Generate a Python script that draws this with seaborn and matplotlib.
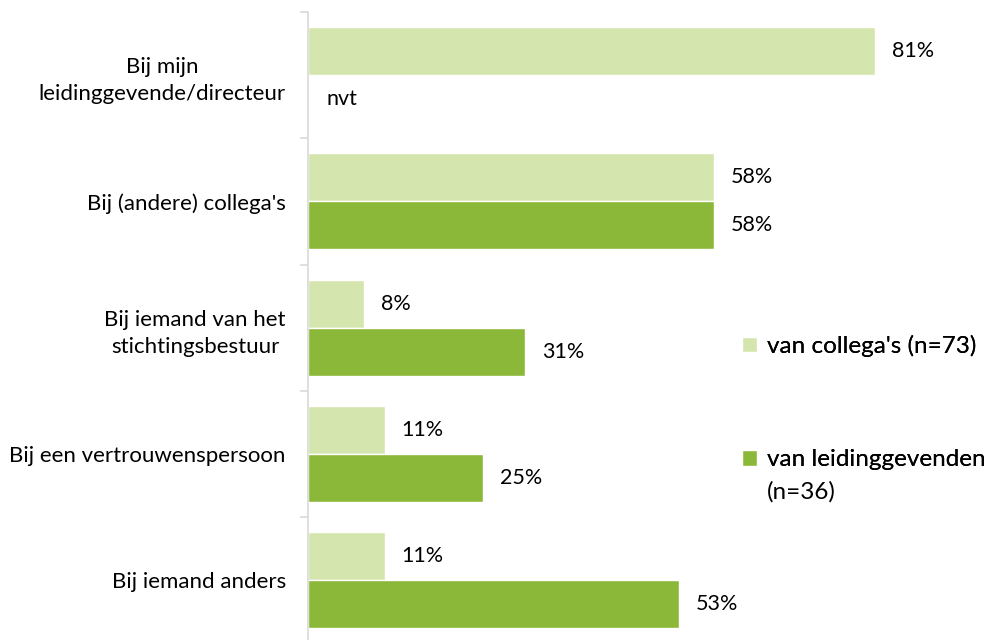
import matplotlib
matplotlib.use("Agg")
import matplotlib.pyplot as plt
import seaborn as sns
import pandas as pd
import numpy as np

categories = ["Bij mijn\nleidinggevende/directeur", "Bij (andere) collega's",
              "Bij iemand van het\nstichtingsbestuur", "Bij een vertrouwenspersoon",
              "Bij iemand anders"]
series_names = ["van collega's (n=73)", "van leidinggevenden"]
series_sub = ["", "(n=36)"]
collegas = [81, 58, 8, 11, 11]
leidinggevenden = [np.nan, 58, 31, 25, 53]
colors = ["#D4E6AE", "#8CB83A"]

df = pd.DataFrame({
    "cat": categories * 2,
    "serie": [series_names[0]] * 5 + [series_names[1]] * 5,
    "val": collegas + leidinggevenden,
})

sns.set_style("white")
plt.rcParams["font.family"] = ["Lato", "DejaVu Sans"]
plt.rcParams["text.color"] = "#000000"

fig = plt.figure(figsize=(9.91, 6.40), dpi=100)
ax = fig.add_axes([308 / 991, (640 - 643.5) / 640, 683 / 991, 631.5 / 640])

sns.barplot(data=df, y="cat", x="val", hue="serie", orient="h",
            palette=colors, width=0.76, gap=0, saturation=1, ax=ax,
            order=categories, hue_order=series_names, legend=True)

ax.set_xlim(0, 97.5)
ax.set_ylim(4.5, -0.5)
ax.set_xlabel("")
ax.set_ylabel("")
ax.set_xticks([])
for s in ["top", "right", "bottom"]:
    ax.spines[s].set_visible(False)
ax.spines["left"].set_color("#D9D9D9")
ax.spines["left"].set_linewidth(1.2)

ax.set_yticks(range(len(categories)))
ax.set_yticklabels(categories, fontsize=16, color="#000000",
                   multialignment="center", linespacing=1.45)
ax.tick_params(axis="y", which="major", left=False, length=0, pad=16)
ax.set_yticks(np.arange(-0.5, len(categories), 1), minor=True)
ax.tick_params(axis="y", which="minor", left=True, length=6, width=1.2,
               color="#D9D9D9")

bw = 0.38
for i in range(len(categories)):
    for j, vals in enumerate([collegas, leidinggevenden]):
        y = i - bw / 2 + j * bw
        v = vals[i]
        if np.isnan(v):
            ax.annotate("nvt", (0, y), xytext=(13, 0), textcoords="offset points",
                        ha="left", va="center", fontsize=15.5, color="#000000")
        else:
            ax.annotate(f"{v:.0f}%", (v, y), xytext=(12, 0), textcoords="offset points",
                        ha="left", va="center", fontsize=15.5, color="#000000")

handles, labels = ax.get_legend_handles_labels()
ax.get_legend().remove()
leg_y = [346, 460]
for h, lab, sub, yc in zip(handles, labels, series_sub, leg_y):
    lg = fig.legend([h], [lab], loc="center left",
                    bbox_to_anchor=(742 / 991, 1 - yc / 640),
                    frameon=False, fontsize=17.5,
                    handlelength=0.62, handleheight=0.62, handletextpad=0.4,
                    borderpad=0, borderaxespad=0)
    for t in lg.get_texts():
        t.set_color("#000000")
    fig.add_artist(lg)
    if sub:
        fig.text(767 / 991, 1 - (yc + 32) / 640, sub, fontsize=17.5,
                 ha="left", va="center", color="#000000")

fig.savefig("out.png", dpi=100)
